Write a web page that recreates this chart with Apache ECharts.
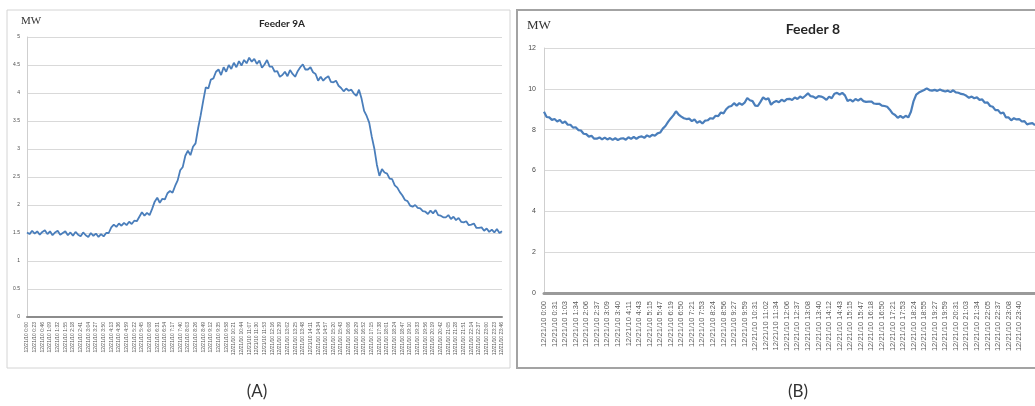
<!DOCTYPE html>
<html>
<head>
<meta charset="utf-8">
<title>Feeder load profiles</title>
<script src="https://cdn.jsdelivr.net/npm/echarts@6/dist/echarts.min.js"></script>
<style>
  html, body { margin: 0; padding: 0; background: #ffffff; overflow: hidden; }
  #chart { width: 1035px; height: 406px; }
</style>
</head>
<body>
<div id="chart"></div>
<script>
// Date shared by every time stamp on both axes
const datePrefix = '12/21/10 ';

// Feeder 9A: tick labels (one every 3 samples) and load in MW
const timesA = ['0:00','0:23','0:46','1:09','1:32','1:55','2:18','2:41','3:04','3:27','3:50','4:13','4:36','4:59','5:22','5:45',
  '6:08','6:31','6:54','7:17','7:40','8:03','8:26','8:49','9:12','9:35','9:58','10:21','10:44','11:07','11:30','11:53',
  '12:16','12:39','13:02','13:25','13:48','14:11','14:34','14:57','15:20','15:43','16:06','16:29','16:52','17:15','17:38',
  '18:01','18:24','18:47','19:10','19:33','19:56','20:19','20:42','21:05','21:28','21:51','22:14','22:37','23:00','23:23','23:46'];
const samplesPerTickA = 3;
const loadA = [
  1.51,1.48,1.54,1.49,1.53,1.47,1.52,1.55,1.48,1.53,
  1.46,1.51,1.54,1.47,1.50,1.53,1.46,1.51,1.45,1.52,
  1.47,1.44,1.51,1.46,1.43,1.50,1.45,1.49,1.43,1.48,
  1.44,1.50,1.50,1.60,1.65,1.61,1.67,1.63,1.68,1.64,
  1.70,1.66,1.72,1.71,1.79,1.87,1.81,1.86,1.82,1.93,
  2.06,2.13,2.04,2.11,2.10,2.21,2.25,2.22,2.34,2.44,
  2.62,2.68,2.88,2.97,2.89,3.04,3.10,3.37,3.60,3.86,
  4.10,4.08,4.24,4.26,4.38,4.42,4.32,4.46,4.38,4.50,
  4.43,4.54,4.46,4.57,4.49,4.59,4.53,4.63,4.56,4.61,
  4.52,4.58,4.45,4.51,4.59,4.47,4.47,4.38,4.39,4.29,
  4.32,4.38,4.30,4.41,4.34,4.29,4.39,4.46,4.51,4.42,
  4.42,4.46,4.37,4.34,4.22,4.29,4.22,4.27,4.30,4.20,
  4.19,4.22,4.13,4.09,4.03,4.08,4.04,4.06,3.99,3.95,
  4.06,3.90,3.68,3.59,3.47,3.22,3.01,2.72,2.52,2.64,
  2.58,2.56,2.47,2.46,2.35,2.31,2.23,2.17,2.09,2.07,
  1.99,1.97,2.00,1.95,1.94,1.89,1.88,1.84,1.90,1.85,
  1.91,1.82,1.81,1.78,1.78,1.82,1.75,1.79,1.73,1.77,
  1.70,1.69,1.71,1.64,1.65,1.67,1.59,1.59,1.60,1.54,
  1.58,1.52,1.56,1.51,1.57,1.50,1.53
];

// Feeder 8: tick labels (one every 4 samples) and load in MW
const timesB = ['0:00','0:31','1:03','1:34','2:06','2:37','3:09','3:40','4:11','4:43','5:15','5:47','6:19','6:50','7:21','7:53',
  '8:24','8:56','9:27','9:59','10:31','11:02','11:34','12:06','12:37','13:08','13:40','14:12','14:43','15:15','15:47',
  '16:18','16:50','17:21','17:53','18:24','18:55','19:27','19:59','20:31','21:03','21:34','22:05','22:37','23:08','23:40'];
const samplesPerTickB = 4;
const loadB = [
  8.88,8.62,8.60,8.48,8.52, 8.40,8.48,8.32,8.40,8.24,
  8.24,8.10,8.12,7.98,7.96, 7.80,7.78,7.66,7.70,7.56,
  7.56,7.62,7.52,7.61,7.52, 7.59,7.50,7.58,7.49,7.56,
  7.58,7.51,7.63,7.55,7.65, 7.55,7.64,7.67,7.60,7.72,
  7.65,7.75,7.70,7.82,7.86, 8.05,8.18,8.38,8.55,8.70,
  8.90,8.74,8.64,8.56,8.52, 8.54,8.42,8.50,8.33,8.42,
  8.30,8.44,8.46,8.56,8.54, 8.68,8.66,8.84,8.80,9.00,
  9.12,9.16,9.30,9.18,9.30, 9.22,9.32,9.55,9.44,9.40,
  9.18,9.16,9.36,9.58,9.48, 9.54,9.22,9.34,9.40,9.34,
  9.47,9.39,9.50,9.51,9.45, 9.58,9.50,9.62,9.55,9.66,
  9.78,9.64,9.62,9.54,9.64, 9.62,9.56,9.46,9.62,9.54,
  9.76,9.80,9.72,9.80,9.68, 9.40,9.47,9.38,9.50,9.42,
  9.52,9.40,9.36,9.37,9.38, 9.28,9.26,9.27,9.18,9.16,
  9.12,8.98,8.80,8.72,8.58, 8.67,8.58,8.68,8.60,8.88,
  9.40,9.72,9.82,9.88,9.94, 10.02,9.94,9.91,9.95,9.90,
  9.97,9.91,9.87,9.91,9.84, 9.93,9.83,9.81,9.75,9.73,
  9.66,9.56,9.62,9.54,9.58, 9.46,9.48,9.32,9.34,9.16,
  9.12,8.96,8.96,8.80,8.84, 8.60,8.60,8.46,8.56,8.50,
  8.52,8.40,8.42,8.26,8.30, 8.32,8.22
];

const lineColor = '#4a7ebb';
const gridColor = '#d9d9d9';

function timeAxis(gridIndex, count, step, times, fontSize, margin, axisColor, axisWidth) {
  const hasLabel = (index) => index % step === 0 && index / step < times.length;
  return {
    type: 'category',
    gridIndex: gridIndex,
    boundaryGap: false,
    data: Array.from({ length: count }, (_, i) => String(i)),
    axisLine: { show: true, lineStyle: { color: axisColor, width: axisWidth } },
    axisTick: { show: false },
    splitLine: { show: false },
    axisLabel: {
      rotate: 90,
      margin: margin,
      fontSize: fontSize,
      fontFamily: 'Liberation Sans, Arial, sans-serif',
      color: '#5a5a5a',
      interval: (index) => hasLabel(index),
      formatter: (value, index) => hasLabel(index) ? datePrefix + times[index / step] : ''
    }
  };
}

function loadAxis(gridIndex, max, interval, fontSize, margin) {
  return {
    type: 'value',
    gridIndex: gridIndex,
    min: 0,
    max: max,
    interval: interval,
    axisLine: { show: true, lineStyle: { color: '#cfcfcf', width: 1 } },
    axisTick: { show: false },
    splitLine: { show: true, lineStyle: { color: gridColor, width: 1 } },
    axisLabel: {
      margin: margin,
      fontSize: fontSize,
      fontFamily: 'Liberation Sans, Arial, sans-serif',
      color: '#4a4a4a'
    }
  };
}

const chart = echarts.init(document.getElementById('chart'), null, { renderer: 'canvas' });

chart.setOption({
  animation: false,
  backgroundColor: '#ffffff',
  grid: [
    { left: 27, top: 37, width: 475, height: 280 },
    { left: 544, top: 48, width: 492, height: 245 }
  ],
  xAxis: [
    timeAxis(0, loadA.length, samplesPerTickA, timesA, 5, 5, '#8c8c8c', 2),
    timeAxis(1, loadB.length, samplesPerTickB, timesB, 7.5, 8, '#9a9a9a', 3)
  ],
  yAxis: [
    loadAxis(0, 5, 0.5, 5, 7),
    loadAxis(1, 12, 2, 7, 8)
  ],
  series: [
    {
      name: 'Feeder 9A', type: 'line', xAxisIndex: 0, yAxisIndex: 0,
      data: loadA, symbol: 'none', smooth: false,
      lineStyle: { color: lineColor, width: 1.8 }
    },
    {
      name: 'Feeder 8', type: 'line', xAxisIndex: 1, yAxisIndex: 1,
      data: loadB, symbol: 'none', smooth: false,
      lineStyle: { color: lineColor, width: 2.2 }
    }
  ],
  graphic: [
    // panel frames
    { type: 'rect', shape: { x: 7, y: 10, width: 503, height: 358 },
      style: { fill: 'none', stroke: '#d4d4d4', lineWidth: 1 }, silent: true },
    { type: 'rect', shape: { x: 517, y: 10, width: 540, height: 358 },
      style: { fill: 'none', stroke: '#a3a3a3', lineWidth: 2 }, silent: true },
    // unit labels
    { type: 'text', x: 21, y: 21, silent: true,
      style: { text: 'MW', fontFamily: 'Liberation Serif, Times New Roman, serif', fontSize: 11,
               fill: '#333333', textVerticalAlign: 'middle' } },
    { type: 'text', x: 527, y: 26, silent: true,
      style: { text: 'MW', fontFamily: 'Liberation Serif, Times New Roman, serif', fontSize: 13,
               fill: '#333333', textVerticalAlign: 'middle' } },
    // chart titles
    { type: 'text', x: 282, y: 24, silent: true,
      style: { text: 'Feeder 9A', fontFamily: 'Lato, Open Sans, sans-serif', fontWeight: 'bold', fontSize: 10,
               fill: '#262626', textAlign: 'center', textVerticalAlign: 'middle' } },
    { type: 'text', x: 813, y: 29, silent: true,
      style: { text: 'Feeder 8', fontFamily: 'Lato, Open Sans, sans-serif', fontWeight: 'bold', fontSize: 14,
               fill: '#262626', textAlign: 'center', textVerticalAlign: 'middle' } },
    // panel captions
    { type: 'text', x: 257, y: 392, silent: true,
      style: { text: '(A)', fontFamily: 'Lato, Open Sans, sans-serif', fontSize: 17,
               fill: '#333333', textAlign: 'center', textVerticalAlign: 'middle' } },
    { type: 'text', x: 798, y: 392, silent: true,
      style: { text: '(B)', fontFamily: 'Lato, Open Sans, sans-serif', fontSize: 17,
               fill: '#333333', textAlign: 'center', textVerticalAlign: 'middle' } }
  ]
});
</script>
</body>
</html>
